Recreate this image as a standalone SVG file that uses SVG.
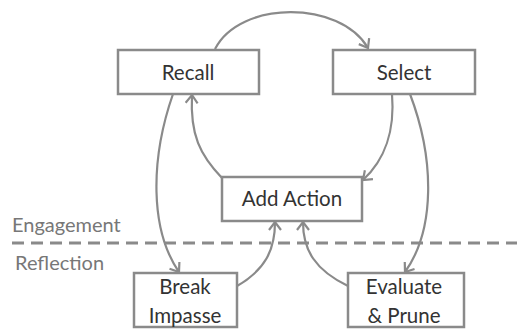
<svg xmlns="http://www.w3.org/2000/svg" width="517" height="331" viewBox="0 0 517 331">
<style>
.box{fill:#fff;stroke:#8a8a8a;stroke-width:2.5}
.lbl{font-family:Lato,"Liberation Sans",sans-serif;font-size:20.5px;fill:#333;text-anchor:middle}
.side{font-family:Lato,"Liberation Sans",sans-serif;font-size:20px;fill:#777}
.edge{fill:none;stroke:#8a8a8a;stroke-width:2.2;marker-end:url(#ah)}
</style>
<defs>
<marker id="ah" viewBox="-10 -7 12 14" markerWidth="12" markerHeight="14" refX="0" refY="0" orient="auto" markerUnits="userSpaceOnUse">
<path d="M-8,-6 L0,0 L-8,6" fill="none" stroke="#8a8a8a" stroke-width="2.2"/>
</marker>
</defs>
<text class="side" x="12" y="232">Engagement</text>
<text class="side" x="15" y="270">Reflection</text>
<line x1="12" y1="243" x2="517" y2="243" stroke="#8a8a8a" stroke-width="3" stroke-dasharray="12 7"/>
<g id="connectors">
<path class="edge" d="M215,49 C240,0 340,0 368,48"/>
<path class="edge" d="M222,178 C200,155 190,135 192,95"/>
<path class="edge" d="M392,94 C395,130 385,160 363,180"/>
<path class="edge" d="M173,94 C150,160 150,230 179,272"/>
<path class="edge" d="M410,94 C435,160 435,230 405,272"/>
<path class="edge" d="M237,286 C265,270 275,250 275,222"/>
<path class="edge" d="M348,286 C315,270 303,250 303,222"/>
</g>
<g id="recall">
<rect class="box" x="118" y="50" width="141" height="44"/>
<text class="lbl" x="188" y="80">Recall</text>
</g>
<g id="select">
<rect class="box" x="333" y="50" width="142" height="44"/>
<text class="lbl" x="404" y="80">Select</text>
</g>
<g id="add-action">
<rect class="box" x="222" y="177" width="140" height="44"/>
<text class="lbl" x="292" y="206">Add Action</text>
</g>
<g id="break-impasse">
<rect class="box" x="134" y="273" width="103" height="54"/>
<text class="lbl" x="185" y="294">Break</text>
<text class="lbl" x="185" y="323">Impasse</text>
</g>
<g id="evaluate-prune">
<rect class="box" x="348" y="273" width="116" height="54"/>
<text class="lbl" x="404" y="294">Evaluate</text>
<text class="lbl" x="404" y="323">&amp; Prune</text>
</g>
</svg>
